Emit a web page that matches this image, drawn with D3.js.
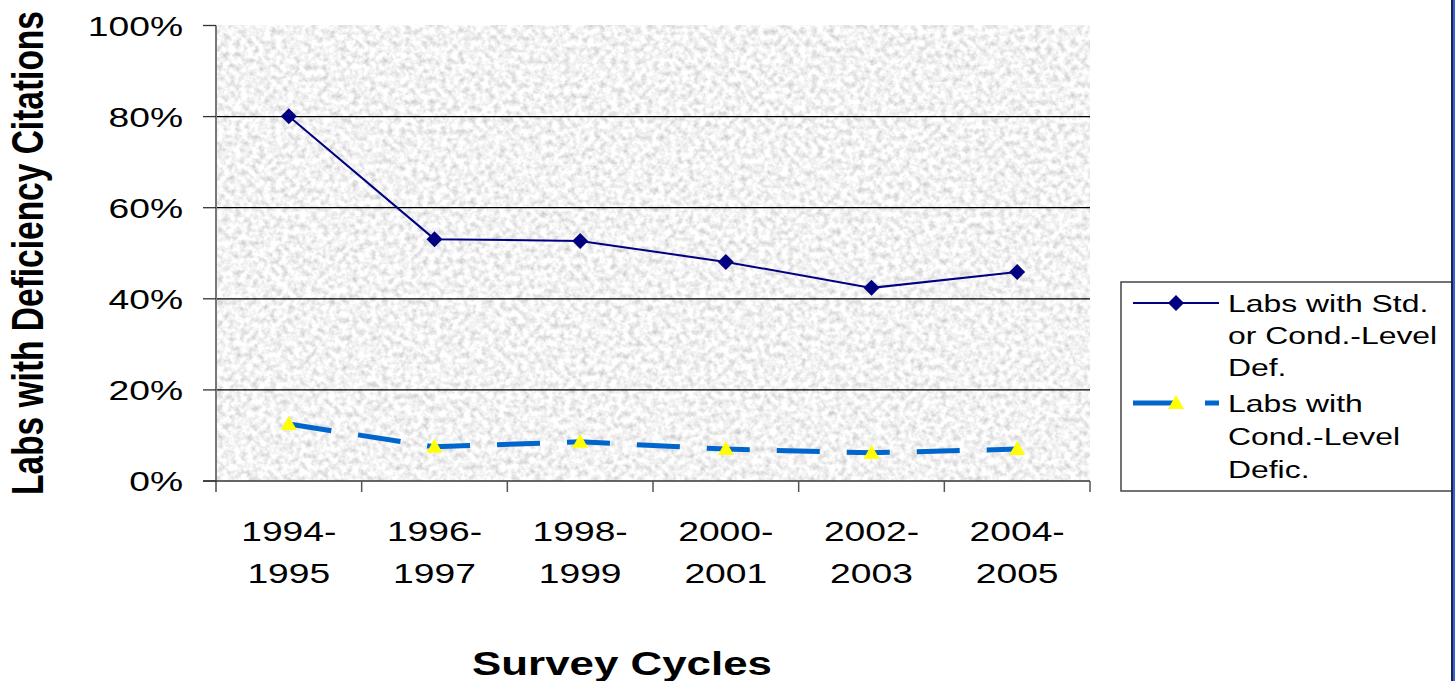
<!DOCTYPE html>
<html>
<head>
<script src="https://d3js.org/d3.v7.min.js"></script>
<style>
  body { margin: 0; background: #fff; }
  text { font-family: "Liberation Sans", Arial, sans-serif; fill: #000; }
</style>
</head>
<body>
<script>
// chart data
var cycles = ["1994-1995", "1996-1997", "1998-1999", "2000-2001", "2002-2003", "2004-2005"];
var stdOrCond = [80.1, 53.1, 52.7, 48.1, 42.4, 45.9];
var condOnly = [12.5, 7.5, 8.6, 7.0, 6.2, 7.0];
var yTicks = [0, 20, 40, 60, 80, 100];
var legendStd = ["Labs with Std.", "or Cond.-Level", "Def."];
var legendCond = ["Labs with", "Cond.-Level", "Defic."];

var W = 1455, H = 681;
var sx = 1.33; // horizontal stretch seen in the picture's text

var svg = d3.select("body").append("svg")
    .attr("width", W).attr("height", H);

// granite-like fill of the plot area
var defs = svg.append("defs");
var f = defs.append("filter").attr("id", "granite")
    .attr("x", 0).attr("y", 0).attr("width", 1).attr("height", 1);
f.append("feTurbulence").attr("type", "fractalNoise")
    .attr("baseFrequency", "0.17").attr("numOctaves", 3).attr("seed", 7);
f.append("feColorMatrix").attr("type", "matrix")
    .attr("values", "0.75 0 0 0 0.52  0.75 0 0 0 0.52  0.75 0 0 0 0.52  0 0 0 0 1");

var pLeft = 216, pRight = 1090, pTop = 25.5, pBottom = 481;

var x = d3.scaleBand().domain(cycles).range([pLeft, pRight]);
var y = d3.scaleLinear().domain([0, 100]).range([pBottom, pTop]);
var cx = function(d) { return x(d) + x.bandwidth() / 2; };

// plot background
svg.append("rect")
    .attr("x", pLeft).attr("y", pTop)
    .attr("width", pRight - pLeft).attr("height", pBottom - pTop)
    .attr("fill", "#e8e8e8")
    .attr("filter", "url(#granite)");

// gridlines
svg.selectAll(".grid").data(yTicks.filter(function(t) { return t > 0 && t < 100; }))
  .enter().append("line")
    .attr("x1", pLeft).attr("x2", pRight)
    .attr("y1", function(d) { return y(d); }).attr("y2", function(d) { return y(d); })
    .attr("stroke", "#000").attr("stroke-width", 1.3);

// y axis
svg.append("line")
    .attr("x1", pLeft).attr("x2", pLeft).attr("y1", pTop).attr("y2", pBottom + 11)
    .attr("stroke", "#777").attr("stroke-width", 2);
svg.selectAll(".ytick").data(yTicks).enter().append("line")
    .attr("x1", pLeft - 13).attr("x2", pLeft)
    .attr("y1", function(d) { return y(d); }).attr("y2", function(d) { return y(d); })
    .attr("stroke", "#333").attr("stroke-width", 1.3);
svg.selectAll(".ylab").data(yTicks).enter().append("text")
    .attr("transform", function(d) { return "translate(183," + (y(d) + 10) + ") scale(" + sx + ",1)"; })
    .attr("text-anchor", "end")
    .style("font-size", "28px")
    .text(function(d) { return d + "%"; });

// x axis
svg.append("line")
    .attr("x1", pLeft - 13).attr("x2", pRight).attr("y1", pBottom).attr("y2", pBottom)
    .attr("stroke", "#333").attr("stroke-width", 1.5);
var bounds = cycles.map(function(d) { return x(d); }).concat([pRight]);
svg.selectAll(".xtick").data(bounds.slice(1)).enter().append("line")
    .attr("x1", function(d) { return d; }).attr("x2", function(d) { return d; })
    .attr("y1", pBottom).attr("y2", pBottom + 11)
    .attr("stroke", "#555").attr("stroke-width", 1.5);
var xl = svg.selectAll(".xlab").data(cycles).enter().append("text")
    .attr("text-anchor", "middle")
    .style("font-size", "28px");
xl.append("tspan")
    .attr("x", function(d) { return cx(d) / sx; }).attr("y", 541)
    .text(function(d) { return d.split("-")[0] + "-"; });
xl.append("tspan")
    .attr("x", function(d) { return cx(d) / sx; }).attr("y", 583)
    .text(function(d) { return d.split("-")[1]; });
xl.attr("transform", "scale(" + sx + ",1)");

// axis titles
svg.append("text")
    .attr("transform", "translate(622,675) scale(" + sx + ",1)")
    .attr("text-anchor", "middle")
    .style("font-size", "33px").style("font-weight", "bold")
    .text("Survey Cycles");
svg.append("text")
    .attr("transform", "translate(43,253) rotate(-90) scale(1," + sx + ")")
    .attr("text-anchor", "middle")
    .style("font-size", "33.5px").style("font-weight", "bold")
    .text("Labs with Deficiency Citations");

// series lines
var line = d3.line()
    .x(function(d, i) { return cx(cycles[i]); })
    .y(function(d) { return y(d); });

svg.append("path").datum(condOnly)
    .attr("d", line).attr("fill", "none")
    .attr("stroke", "#0066cc").attr("stroke-width", 5)
    .attr("stroke-dasharray", "43,27");
svg.append("path").datum(stdOrCond)
    .attr("d", line).attr("fill", "none")
    .attr("stroke", "#000080").attr("stroke-width", 2);

var diamond = "M0,-8L8,0L0,8L-8,0Z";
var tri = "M0,-8L8,6L-8,6Z";

svg.selectAll(".dia").data(stdOrCond).enter().append("path")
    .attr("d", diamond).attr("fill", "#000080")
    .attr("transform", function(d, i) { return "translate(" + cx(cycles[i]) + "," + y(d) + ")"; });
svg.selectAll(".tri").data(condOnly).enter().append("path")
    .attr("d", tri).attr("fill", "#ffff00")
    .attr("transform", function(d, i) { return "translate(" + cx(cycles[i]) + "," + y(d) + ")"; });

// legend
var lg = svg.append("g");
lg.append("rect")
    .attr("x", 1121).attr("y", 282).attr("width", 360).attr("height", 209)
    .attr("fill", "#fff").attr("stroke", "#444").attr("stroke-width", 1.5);
lg.append("line").attr("x1", 1133).attr("x2", 1219).attr("y1", 303).attr("y2", 303)
    .attr("stroke", "#000080").attr("stroke-width", 2);
lg.append("path").attr("d", diamond).attr("fill", "#000080")
    .attr("transform", "translate(1176,303)");
lg.append("line").attr("x1", 1133).attr("x2", 1219).attr("y1", 403).attr("y2", 403)
    .attr("stroke", "#0066cc").attr("stroke-width", 5)
    .attr("stroke-dasharray", "43,29,14");
lg.append("path").attr("d", tri).attr("fill", "#ffff00")
    .attr("transform", "translate(1176,403)");

var lt1 = lg.append("text").style("font-size", "24px")
    .attr("transform", "scale(" + sx + ",1)");
lt1.selectAll("tspan").data(legendStd).enter().append("tspan")
    .attr("x", 1228 / sx).attr("y", function(d, i) { return 312 + i * 32; })
    .text(function(d) { return d; });
var lt2 = lg.append("text").style("font-size", "24px")
    .attr("transform", "scale(" + sx + ",1)");
lt2.selectAll("tspan").data(legendCond).enter().append("tspan")
    .attr("x", 1228 / sx).attr("y", function(d, i) { return 412 + i * 33; })
    .text(function(d) { return d; });

// right edge strip
svg.append("rect").attr("x", 1451).attr("y", 0).attr("width", 2).attr("height", H).attr("fill", "#1c2448");
svg.append("rect").attr("x", 1453).attr("y", 0).attr("width", 2).attr("height", H).attr("fill", "#3a5ee0");
</script>
</body>
</html>
